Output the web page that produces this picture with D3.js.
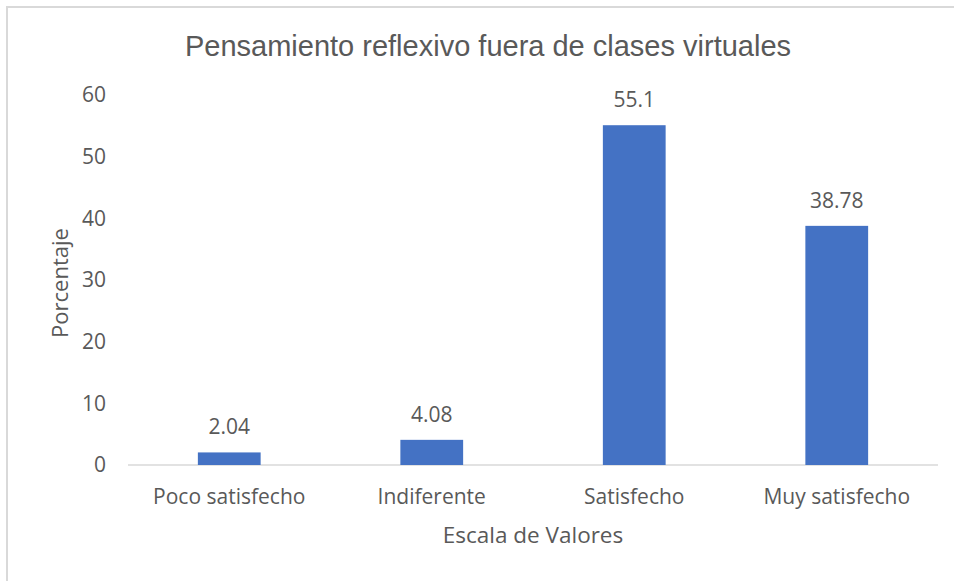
<!DOCTYPE html>
<html><head><meta charset="utf-8">
<script src="https://cdn.jsdelivr.net/npm/d3@7"></script>
<style>body{margin:0;background:#fff}svg{display:block}</style>
</head><body>
<svg id="c" width="954" height="581"></svg>
<script>
const categories = ["Poco satisfecho", "Indiferente", "Satisfecho", "Muy satisfecho"];
const values = [2.04, 4.08, 55.1, 38.78];
const valueLabels = ["2.04", "4.08", "55.1", "38.78"];
const yTicks = [0, 10, 20, 30, 40, 50, 60];
const title = "Pensamiento reflexivo fuera de clases virtuales";
const xTitle = "Escala de Valores";
const yTitle = "Porcentaje";

const svg = d3.select("#c");
const W = 954, H = 581;
const m = {left: 128, right: 16, top: 95, bottom: 116};
const x = d3.scaleBand().domain(categories).range([m.left, W - m.right]).paddingInner(0.69).paddingOuter(0.345);
const y = d3.scaleLinear().domain([0, 60]).range([H - m.bottom, m.top]);
const txt = "#595959";
const font = "'Open Sans', 'Noto Sans', sans-serif";
const fs = 21;

svg.append("rect").attr("x", 7).attr("y", 7).attr("width", W).attr("height", H)
  .attr("fill", "#fff").attr("stroke", "#d9d9d9").attr("stroke-width", 2);

svg.append("text").attr("x", 488).attr("y", 56).attr("text-anchor", "middle")
  .attr("font-family", "'Liberation Sans', Arial, sans-serif").attr("font-size", 29)
  .attr("fill", txt).text(title);

// y axis labels
const ya = svg.append("g").attr("transform", `translate(${m.left},0)`)
  .call(d3.axisLeft(y).tickValues(yTicks).tickSize(0).tickPadding(22));
ya.select(".domain").remove();
ya.selectAll("text").attr("font-family", font).attr("font-size", fs).attr("fill", txt);

// x axis
const xa = svg.append("g").attr("transform", `translate(0,${y(0)})`)
  .call(d3.axisBottom(x).tickSize(0));
xa.select(".domain").attr("stroke", "#d9d9d9").attr("stroke-width", 1.5).attr("d", `M${m.left},0H${W - m.right}`);
xa.selectAll("text").attr("font-family", font).attr("font-size", fs).attr("fill", txt)
  .attr("y", 39).attr("dy", 0);

svg.append("g").selectAll("rect").data(values).join("rect")
  .attr("x", (d, i) => x(categories[i])).attr("width", x.bandwidth())
  .attr("y", d => y(d)).attr("height", d => y(0) - y(d)).attr("fill", "#4472C4");

svg.append("g").selectAll("text").data(values).join("text")
  .attr("x", (d, i) => x(categories[i]) + x.bandwidth() / 2).attr("y", d => y(d) - 18)
  .attr("text-anchor", "middle").attr("font-family", font).attr("font-size", fs).attr("fill", txt)
  .text((d, i) => valueLabels[i]);

svg.append("text").attr("x", 533).attr("y", 543).attr("text-anchor", "middle")
  .attr("font-family", font).attr("font-size", 22.5).attr("fill", txt).text(xTitle);

svg.append("text").attr("transform", "translate(68,283) rotate(-90)").attr("text-anchor", "middle")
  .attr("font-family", font).attr("font-size", 22).attr("fill", txt).text(yTitle);
</script>
</body></html>
